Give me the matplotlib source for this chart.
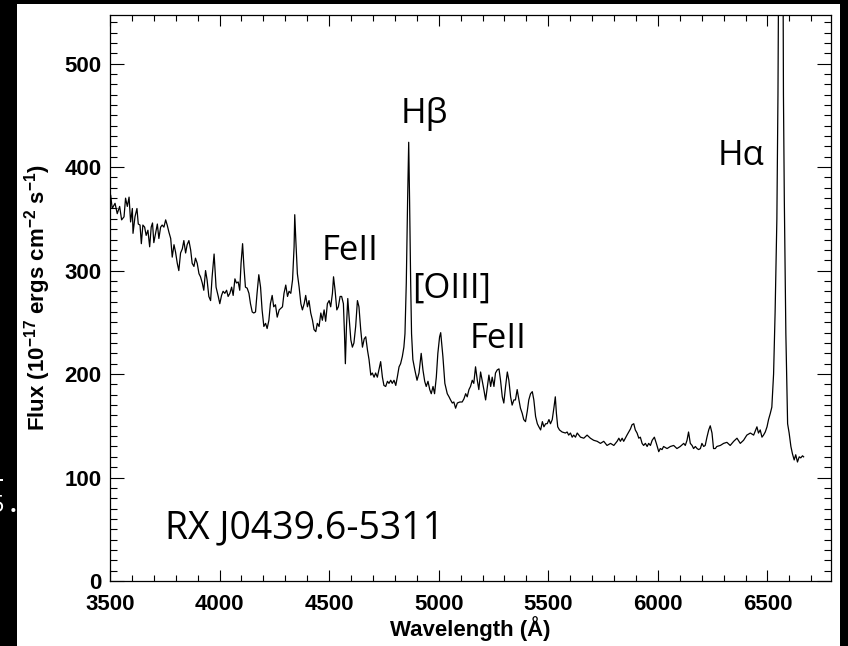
import matplotlib
matplotlib.use("Agg")
import matplotlib.pyplot as plt
from matplotlib.patches import Rectangle
from matplotlib.ticker import MultipleLocator

# --- Spectrum (wavelength in Angstrom, flux in 1e-17 erg/cm2/s) ---
wavelength = [
    3500, 3503, 3510, 3523, 3533, 3544, 3553, 3564, 3571, 3579, 3587, 3594, 3602, 3605, 3614, 3623,
    3629, 3637, 3643, 3650, 3658, 3665, 3673, 3681, 3688, 3694, 3700, 3708, 3716, 3723, 3731, 3738,
    3746, 3754, 3761, 3769, 3777, 3784, 3792, 3799, 3807, 3814, 3822, 3830, 3837, 3845, 3852, 3860,
    3868, 3875, 3883, 3890, 3898, 3906, 3913, 3921, 3928, 3936, 3943, 3951, 3959, 3966, 3975, 3984,
    3994, 4001, 4009, 4016, 4024, 4032, 4039, 4047, 4055, 4062, 4070, 4077, 4085, 4092, 4098, 4105,
    4111, 4118, 4126, 4134, 4141, 4149, 4156, 4164, 4171, 4179, 4187, 4194, 4202, 4210, 4217, 4225,
    4232, 4240, 4247, 4255, 4263, 4272, 4287, 4294, 4302, 4310, 4317, 4325, 4333, 4340, 4343, 4348,
    4355, 4363, 4371, 4378, 4386, 4393, 4401, 4408, 4416, 4424, 4431, 4439, 4446, 4454, 4462, 4469,
    4477, 4484, 4492, 4500, 4507, 4515, 4520, 4527, 4535, 4542, 4550, 4557, 4565, 4570, 4574, 4579,
    4585, 4591, 4599, 4606, 4613, 4621, 4629, 4636, 4644, 4652, 4660, 4667, 4675, 4682, 4690, 4697,
    4705, 4712, 4720, 4727, 4735, 4743, 4750, 4758, 4766, 4773, 4781, 4788, 4796, 4804, 4811, 4819,
    4826, 4834, 4841, 4846, 4852, 4858, 4863, 4867, 4872, 4876, 4882, 4891, 4901, 4910, 4920, 4928,
    4936, 4943, 4951, 4959, 4966, 4974, 4981, 4989, 4996, 5004, 5009, 5019, 5028, 5039, 5047, 5054,
    5062, 5069, 5077, 5085, 5096, 5107, 5115, 5123, 5130, 5138, 5145, 5153, 5160, 5168, 5176, 5183,
    5191, 5199, 5206, 5214, 5222, 5229, 5237, 5244, 5252, 5259, 5267, 5275, 5282, 5290, 5297, 5305,
    5313, 5320, 5328, 5335, 5343, 5350, 5358, 5366, 5373, 5381, 5388, 5396, 5404, 5411, 5419, 5427,
    5434, 5442, 5450, 5457, 5465, 5473, 5480, 5488, 5495, 5503, 5510, 5518, 5526, 5532, 5537, 5543,
    5551, 5563, 5578, 5586, 5593, 5601, 5609, 5616, 5624, 5632, 5647, 5662, 5677, 5692, 5707, 5723,
    5738, 5753, 5768, 5784, 5799, 5814, 5822, 5829, 5837, 5844, 5859, 5875, 5882, 5890, 5897, 5905,
    5913, 5920, 5928, 5935, 5943, 5951, 5958, 5966, 5974, 5984, 5993, 6004, 6011, 6019, 6026, 6042,
    6057, 6072, 6087, 6102, 6118, 6125, 6133, 6140, 6148, 6156, 6163, 6171, 6179, 6186, 6194, 6201,
    6209, 6216, 6224, 6232, 6239, 6247, 6254, 6262, 6269, 6285, 6300, 6315, 6330, 6346, 6361, 6376,
    6391, 6406, 6422, 6437, 6452, 6459, 6467, 6475, 6482, 6490, 6498, 6505, 6513, 6520, 6528, 6535,
    6543, 6548, 6556, 6562, 6568, 6573, 6577, 6584, 6592, 6599, 6607, 6614, 6622, 6629, 6637, 6645,
    6652, 6660, 6665,
]
flux = [
    365, 373, 360, 365, 355, 362, 349, 352, 370, 362, 371, 347, 360, 336, 352, 360,
    345, 344, 326, 344, 342, 334, 339, 323, 342, 346, 327, 336, 345, 331, 342, 344,
    342, 349, 344, 337, 331, 313, 325, 318, 307, 300, 317, 321, 329, 317, 325, 329,
    320, 307, 304, 312, 307, 297, 294, 288, 281, 300, 291, 275, 271, 294, 316, 284,
    275, 268, 276, 280, 278, 281, 275, 278, 284, 276, 292, 288, 289, 281, 307, 326,
    304, 284, 283, 278, 268, 260, 259, 260, 278, 296, 284, 262, 246, 249, 244, 252,
    268, 276, 265, 267, 255, 262, 265, 278, 286, 275, 280, 278, 291, 323, 354, 329,
    297, 284, 268, 262, 268, 276, 265, 271, 259, 252, 243, 241, 249, 246, 259, 252,
    262, 251, 268, 271, 265, 278, 294, 281, 262, 265, 275, 275, 268, 239, 210, 246,
    273, 255, 233, 226, 230, 246, 271, 265, 243, 226, 234, 236, 223, 214, 199, 201,
    197, 201, 197, 204, 212, 197, 189, 188, 193, 191, 194, 191, 194, 189, 197, 207,
    210, 217, 226, 239, 288, 368, 424, 368, 288, 239, 214, 204, 194, 201, 220, 204,
    193, 188, 193, 185, 181, 188, 181, 197, 220, 236, 240, 217, 191, 181, 178, 175,
    172, 173, 167, 172, 173, 173, 176, 181, 178, 185, 188, 194, 191, 207, 194, 185,
    202, 193, 185, 175, 188, 199, 188, 197, 188, 201, 204, 205, 194, 178, 172, 188,
    202, 194, 178, 170, 175, 175, 185, 175, 167, 162, 156, 154, 164, 175, 181, 183,
    175, 159, 152, 149, 146, 154, 149, 152, 152, 156, 152, 156, 168, 178, 162, 149,
    146, 144, 143, 144, 141, 143, 139, 141, 139, 143, 139, 138, 141, 138, 136, 135,
    133, 135, 131, 133, 131, 135, 138, 135, 138, 135, 141, 147, 151, 152, 146, 143,
    138, 139, 133, 131, 133, 130, 133, 131, 136, 139, 133, 125, 128, 127, 130, 128,
    130, 131, 128, 130, 133, 131, 136, 144, 133, 131, 128, 130, 128, 127, 128, 133,
    130, 131, 139, 146, 150, 143, 128, 128, 130, 131, 133, 134, 131, 135, 138, 133,
    136, 141, 143, 141, 149, 143, 146, 139, 141, 144, 149, 156, 162, 168, 200, 260,
    350, 470, 800, 1000, 800, 470, 368, 239, 152, 143, 130, 123, 117, 122, 115, 120,
    119, 121, 120,
]

line_names = ["Hβ", "Hα", "FeII", "[OIII]", "FeII"]
object_name = "RX J0439.6-5311"

plt.rcParams["font.family"] = "Liberation Sans"
plt.rcParams["font.weight"] = "bold"
plt.rcParams["mathtext.fontset"] = "custom"
plt.rcParams["mathtext.rm"] = "Liberation Sans:bold"
plt.rcParams["mathtext.bf"] = "Liberation Sans:bold"
plt.rcParams["mathtext.default"] = "bf"

W, H = 848, 646
fig = plt.figure(figsize=(W / 100, H / 100), dpi=100, facecolor="black")

# white slide area (black strip left / top / right as in the screenshot)
fig.add_artist(Rectangle((17 / W, 0), (840 - 17) / W, (H - 4) / H,
                         transform=fig.transFigure, facecolor="white",
                         edgecolor="none", zorder=-10))
# clipped leftover of slide text at the left edge
fig.text(4 / W, 1 - 512 / H, "5", color="white", fontsize=17,
         fontweight="normal", family="Open Sans", ha="right", va="baseline")
fig.text(10 / W, 1 - 512 / H, ".", color="white", fontsize=17,
         fontweight="bold", family="Open Sans", ha="left", va="baseline")
fig.add_artist(Rectangle((0, 1 - 481 / H), 3 / W, 2 / H,
                         transform=fig.transFigure, facecolor="white",
                         edgecolor="none"))

ax = fig.add_axes([110 / W, 65 / H, 721 / W, 566 / H])
ax.plot(wavelength, flux, color="black", lw=0.9)

ax.set_xlim(3500, 6790)
ax.set_ylim(0, 547)
ax.xaxis.set_major_locator(MultipleLocator(500))
ax.xaxis.set_minor_locator(MultipleLocator(100))
ax.yaxis.set_major_locator(MultipleLocator(100))
ax.yaxis.set_minor_locator(MultipleLocator(10))

ax.tick_params(which="both", direction="in", top=True, right=True, width=0.8,
               labelsize=16)
ax.tick_params(axis="x", which="major", length=8, pad=9)
ax.tick_params(axis="x", which="minor", length=4)
ax.tick_params(axis="y", which="major", length=10, pad=6)
ax.tick_params(axis="y", which="minor", length=5)
for sp in ax.spines.values():
    sp.set_linewidth(0.9)

ax.set_xlabel("Wavelength (Å)", fontsize=16, fontweight="bold", labelpad=1)
ax.set_ylabel(r"Flux (10$^{-17}$ ergs cm$^{-2}$ s$^{-1}$)", fontsize=16,
              fontweight="bold", labelpad=8)

# line identifications
ann = dict(fontsize=25, fontweight="normal", family="Open Sans",
           ha="left", va="baseline", color="black")
ax.text(4826, 443, line_names[0], **ann)
ax.text(6271, 402, line_names[1], **ann)
ax.text(4465, 310, line_names[2], **ann)
ax.text(4880, 274, line_names[3], **ann)
ax.text(5142, 225, line_names[4], **ann)
ax.text(3752, 41, object_name, **dict(ann, fontsize=27))

fig.savefig("out.png", dpi=100, facecolor=fig.get_facecolor())
